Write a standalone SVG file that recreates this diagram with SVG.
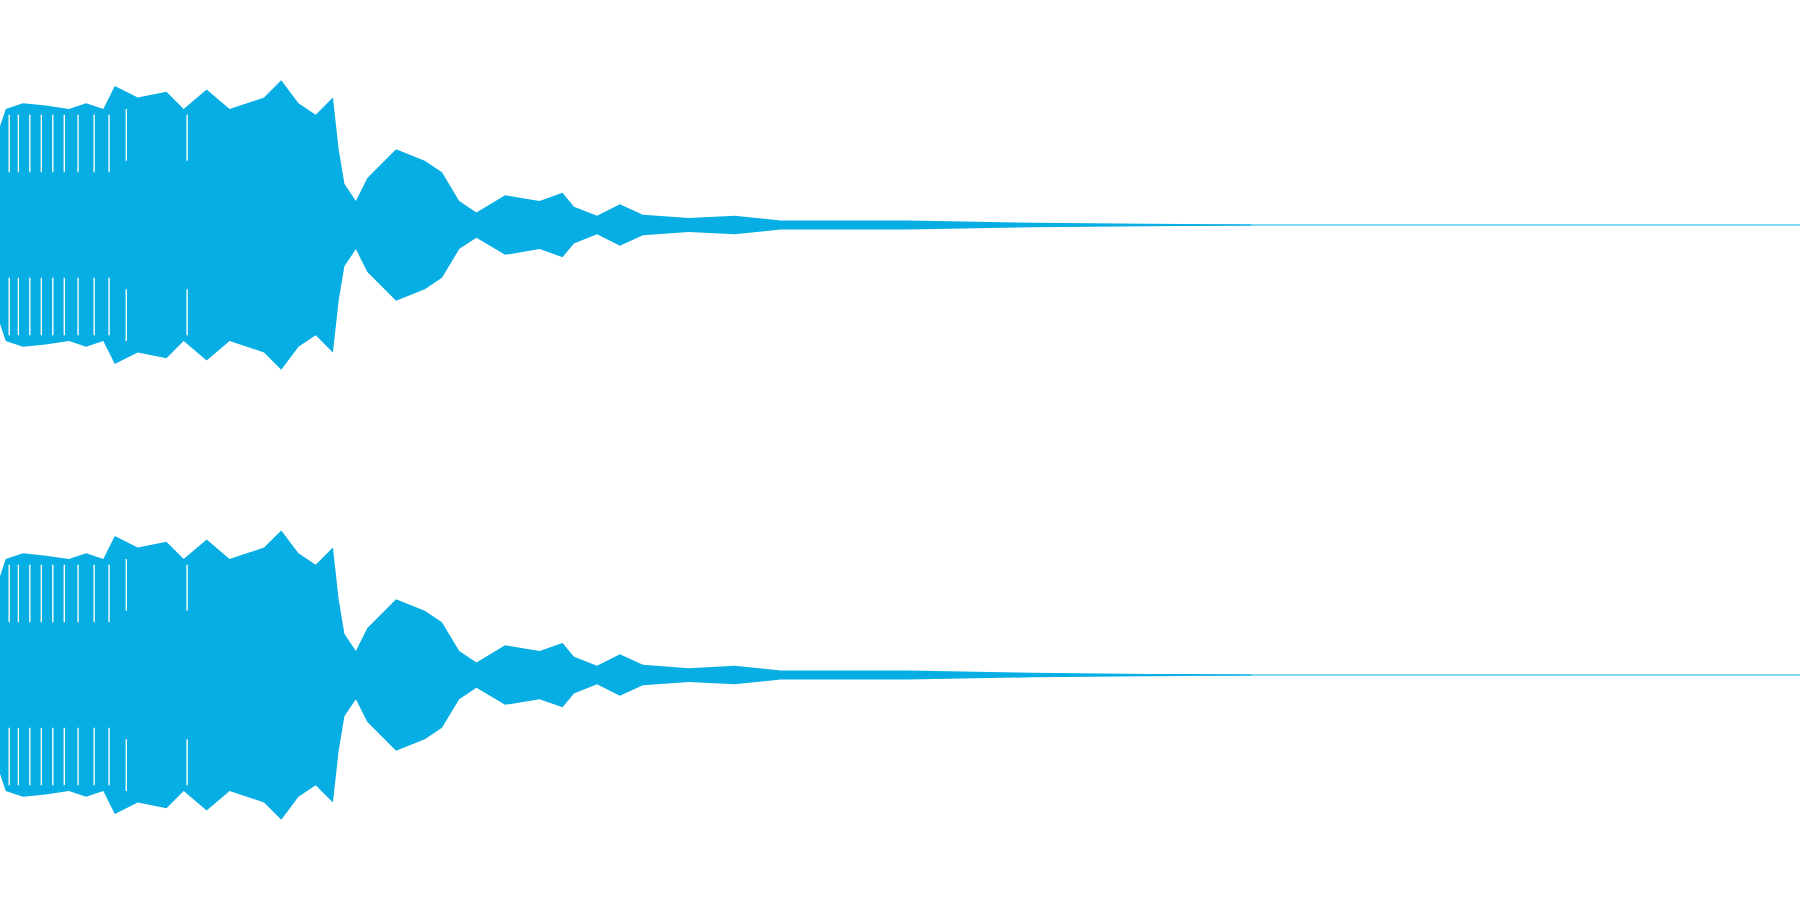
<svg xmlns="http://www.w3.org/2000/svg" width="1800" height="900" viewBox="0 0 1800 900">
<style>.w{fill:#07AEE3}.b{stroke:#07AEE3;stroke-width:1}.g{stroke:#fff;stroke-width:1.2}</style>
<defs>
<g id="ch">
<line class="b" x1="0" y1="196" x2="1568" y2="196"/>
<path class="w" d="M0,110 L5,95 L20,90 L40,92 L60,95 L75,90 L90,95 L100,75 L120,85 L145,80 L160,95 L180,78 L200,95 L215,90 L230,85 L245,70 L260,90 L275,100 L290,85 L295,130 L300,160 L310,175 L320,155 L345,130 L370,140 L385,150 L400,175 L415,185 L440,170 L470,175 L490,168 L500,180 L520,188 L540,178 L560,187 L600,190 L640,188 L680,192 L740,192 L790,192 L900,194 L1000,195 L1090,195.5 L1090,196.5 L1000,197 L900,198 L790,200 L740,200 L680,200 L640,204 L600,202 L560,205 L540,214 L520,204 L500,212 L490,224 L470,217 L440,222 L415,207 L400,217 L385,242 L370,252 L345,262 L320,237 L310,217 L300,232 L295,262 L290,307 L275,292 L260,302 L245,322 L230,307 L215,302 L200,297 L180,314 L160,297 L145,312 L120,307 L100,317 L90,297 L75,302 L60,297 L40,300 L20,302 L5,297 L0,282 Z"/>
<g class="g">
<line x1="8" y1="100" x2="8" y2="150"/><line x1="8" y1="242" x2="8" y2="292"/>
<line x1="16" y1="100" x2="16" y2="150"/><line x1="16" y1="242" x2="16" y2="292"/>
<line x1="26" y1="100" x2="26" y2="150"/><line x1="26" y1="242" x2="26" y2="292"/>
<line x1="36" y1="100" x2="36" y2="150"/><line x1="36" y1="242" x2="36" y2="292"/>
<line x1="46" y1="100" x2="46" y2="150"/><line x1="46" y1="242" x2="46" y2="292"/>
<line x1="56" y1="100" x2="56" y2="150"/><line x1="56" y1="242" x2="56" y2="292"/>
<line x1="68" y1="100" x2="68" y2="150"/><line x1="68" y1="242" x2="68" y2="292"/>
<line x1="82" y1="100" x2="82" y2="150"/><line x1="82" y1="242" x2="82" y2="292"/>
<line x1="95" y1="100" x2="95" y2="150"/><line x1="95" y1="242" x2="95" y2="292"/>
<line x1="110" y1="95" x2="110" y2="140"/><line x1="110" y1="252" x2="110" y2="297"/>
<line x1="163" y1="100" x2="163" y2="140"/><line x1="163" y1="252" x2="163" y2="292"/>
</g>
</g>
</defs>
<g transform="scale(1.148)">
<use href="#ch"/>
<use href="#ch" transform="translate(0,392)"/>
</g>
</svg>
